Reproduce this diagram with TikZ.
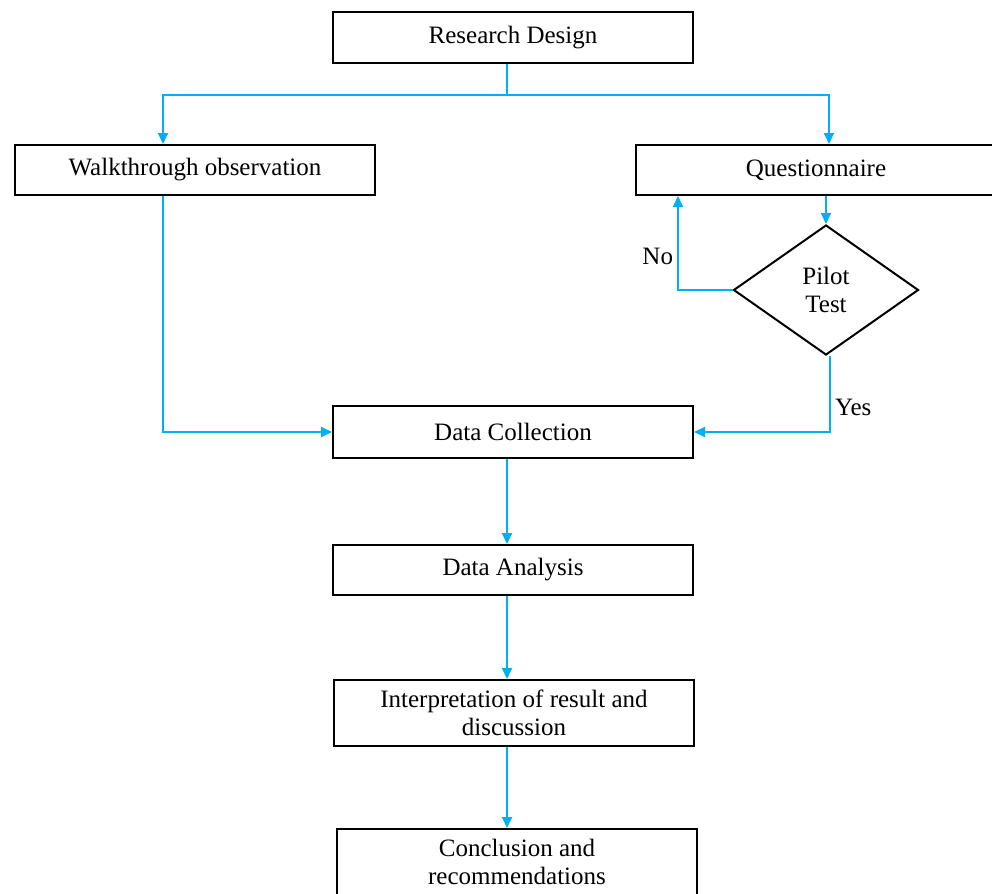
\documentclass[tikz,border=0pt]{standalone}
\usepackage{fontspec}
\setmainfont{Liberation Serif}
\usetikzlibrary{arrows.meta,positioning,shapes.geometric}
\definecolor{Flow}{HTML}{00B0F0}
\tikzset{
  stage/.style={draw=black, line width=1pt, minimum width=180pt, minimum height=25pt, align=center, inner sep=2pt, font=\fontsize{12.5}{14}\selectfont},
  check/.style={draw=black, diamond, line width=1pt, minimum width=92.5pt, minimum height=65pt, inner sep=0pt, align=center, font=\fontsize{12.5}{14}\selectfont},
  link/.style={line width=1pt, draw=Flow},
  flow/.style={-{Triangle[length=5.5pt,width=5pt]}, line width=1pt, draw=Flow},
  tag/.style={font=\fontsize{12.5}{14}\selectfont, inner sep=2pt}
}

\begin{document}
\begin{tikzpicture}[x=0.5pt, y=-0.5pt]
  \useasboundingbox (0,0) rectangle (992,894);
  % columns of the connectors
  \coordinate (left) at (163,0);
  \coordinate (right) at (829,0);
  \coordinate (mid) at (507,0);
  \coordinate (back) at (678,0);
  \coordinate (yes) at (830,0);
  \coordinate (split) at (507,95);
  \node[stage, minimum height=25.5pt] (rd) at (513,37.5) {Research Design};
  \node[stage] (walk) at (195,170) {Walkthrough observation};
  \node[stage] (quest) at (816,170) {Questionnaire};
  \node[check] (pilot) at (826,290) {Pilot\\Test};
  \node[stage, minimum height=26pt] (dc) at (513,432) {Data Collection};
  \node[stage] (da) at (513,570) {Data Analysis};
  \node[stage, minimum height=33pt] (interp) at (514,713) {Interpretation of result and\\discussion};
  \node[stage, minimum height=33pt] (concl) at (517,862) {Conclusion and\\recommendations};
  \draw[link] (split |- rd.south) -- (split);
  \draw[flow] (split) -| (left |- walk.north);
  \draw[flow] (split) -| (right |- quest.north);
  \draw[flow] (quest.south -| pilot.north) -- (pilot.north);
  \draw[flow] (pilot.west) -| (back |- quest.south) node[tag, pos=0.68, left] {No};
  \draw[flow] (yes |- pilot.south) |- (dc.east) node[tag, pos=0.34, right] {Yes};
  \draw[flow] (left |- walk.south) |- (dc.west);
  \draw[flow] (mid |- dc.south) -- (mid |- da.north);
  \draw[flow] (mid |- da.south) -- (mid |- interp.north);
  \draw[flow] (mid |- interp.south) -- (mid |- concl.north);
\end{tikzpicture}
\end{document}
